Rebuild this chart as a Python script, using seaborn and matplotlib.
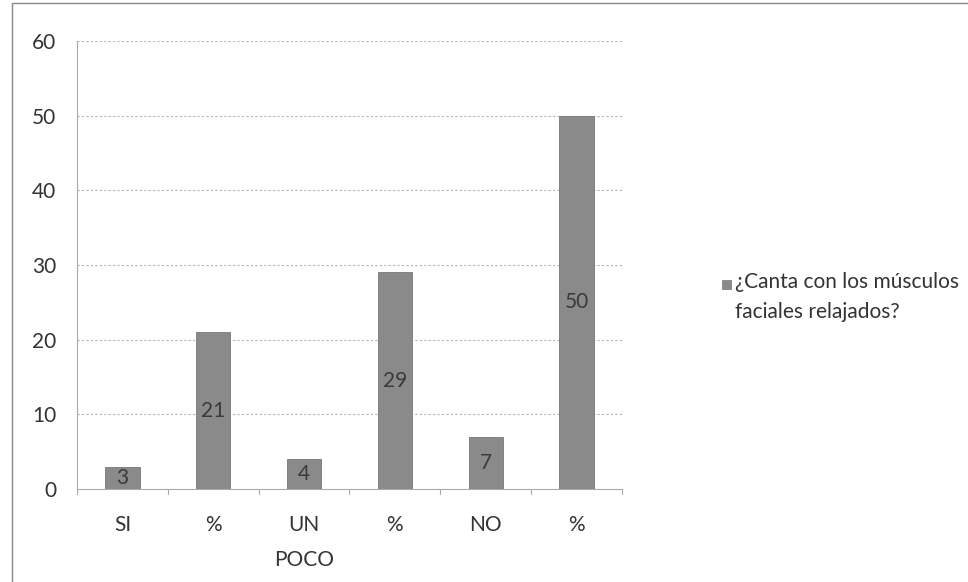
import matplotlib
matplotlib.use("Agg")
import matplotlib.pyplot as plt
import seaborn as sns
import pandas as pd
from matplotlib.patches import Rectangle

categories = ["SI", "%", "UN\nPOCO", "%", "NO", "%"]
values = [3, 21, 4, 29, 7, 50]
series_name = "¿Canta con los músculos\nfaciales relajados?"
yticks = [0, 10, 20, 30, 40, 50, 60]

sns.set_style("white")
plt.rcParams['font.family'] = ['Lato', 'DejaVu Sans']

df = pd.DataFrame({"pos": range(len(categories)), "val": values})

fig = plt.figure(figsize=(9.68, 5.82), dpi=100)
ax = fig.add_axes([0.0795, 0.1598, 0.5631, 0.7698])

sns.barplot(data=df, x="pos", y="val", color="#8a8a8a", width=0.38,
            saturation=1, ax=ax, edgecolor="#777777", linewidth=0.6)

FS = 15
ax.set_ylim(0, 60)
ax.set_yticks(yticks)
ax.set_xticks(range(len(categories)))
ax.set_xticklabels(categories, fontsize=FS, color="#333333", linespacing=1.9)
ax.tick_params(axis="y", labelsize=FS, labelcolor="#333333", length=0, pad=15)
ax.tick_params(axis="x", length=0, pad=19)
ax.set_xlabel("")
ax.set_ylabel("")
ax.set_xlim(-0.5, len(categories) - 0.5)

for y in yticks[1:]:
    ax.axhline(y, color="#b5b5b5", linewidth=0.8, linestyle=(0, (2, 2)), zorder=0)

# small category-boundary tick marks along the x axis (Excel style)
for b in [i + 0.5 for i in range(-1, len(categories))]:
    ax.plot([b, b], [0, -0.7], color="#aaaaaa", linewidth=0.8, clip_on=False)

for s in ["top", "right"]:
    ax.spines[s].set_visible(False)
ax.spines["left"].set_color("#aaaaaa")
ax.spines["left"].set_linewidth(0.8)
ax.spines["bottom"].set_color("#aaaaaa")
ax.spines["bottom"].set_linewidth(0.8)

for c in ax.containers:
    ax.bar_label(c, labels=[str(v) for v in values], label_type="center",
                 fontsize=FS, color="#3a3a3a")

# legend
fig.patches.append(Rectangle((722 / 968, 1 - 289 / 582), 9 / 968, 9 / 582,
                             transform=fig.transFigure, facecolor="#8a8a8a",
                             edgecolor="#777777", linewidth=0.5))
fig.text(735 / 968, 1 - 272 / 582, series_name, fontsize=FS, color="#333333",
         va="top", ha="left", linespacing=1.65, transform=fig.transFigure)

# outer chart border
fig.patches.append(Rectangle((12 / 968, -0.01), 1.02, 1 - 3 / 582 + 0.01,
                             transform=fig.transFigure, fill=False,
                             edgecolor="#888888", linewidth=1.0))

fig.savefig("out.png", dpi=100)
